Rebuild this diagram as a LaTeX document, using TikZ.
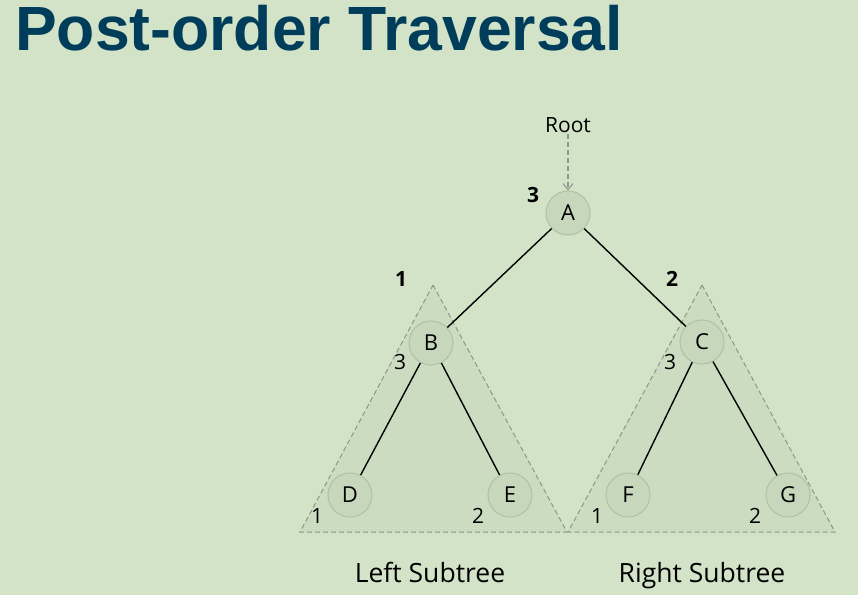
\documentclass[tikz,border=0pt]{standalone}
\usepackage{fontspec}
\setmainfont{Open Sans}
\newfontfamily\headfont{Liberation Sans}
\usetikzlibrary{arrows.meta,positioning,backgrounds}
\definecolor{cBg}{HTML}{D3E3C8}
\definecolor{cHead}{HTML}{003D5B}
\definecolor{cNode}{HTML}{C6D7BB}
\definecolor{cNodeRim}{HTML}{AEC2A3}
\definecolor{cTri}{HTML}{CBDCC0}
\definecolor{cDash}{HTML}{8E978B}
\tikzset{
  tnode/.style={circle, draw=cNodeRim, line width=1pt, fill=cNode,
    minimum size=44pt, inner sep=0pt, font=\fontsize{22}{22}\selectfont},
  ord/.style={inner sep=1pt, font=\fontsize{21}{21}\selectfont},
  ordtop/.style={ord, font=\fontsize{21}{21}\selectfont\bfseries},
  caption/.style={inner sep=1pt, anchor=base, font=\fontsize{26.5}{27}\selectfont},
  edge/.style={draw=black, line width=1.4pt},
  subtree/.style={draw=cDash, fill=cTri, dashed, dash pattern=on 5pt off 3pt, line width=1pt},
  ptr/.style={-{Straight Barb[length=6pt, width=10pt]}, draw=cDash, dashed,
    dash pattern=on 5pt off 3pt, line width=1.1pt},
}

\begin{document}
\begin{tikzpicture}[x=1pt, y=-1pt]
    \fill[cBg] (0,0) rectangle (858,595);
    \useasboundingbox (0,0) rectangle (858,595);
    \node[anchor=base west, inner sep=0pt, text=cHead,
      font=\headfont\fontsize{62.5}{63}\selectfont\bfseries] (title) at (15,50) {Post-order Traversal};
    % subtree outlines
    \coordinate (lTop) at (433,285);
    \coordinate (lLeft) at (300,532);
    \coordinate (lRight) at (567,532);
    \coordinate (rTop) at (702,285);
    \coordinate (rLeft) at (568,532);
    \coordinate (rRight) at (835,532);
    \draw[subtree] (lTop) -- (lRight) -- (lLeft) -- cycle;
    \draw[subtree] (rTop) -- (rRight) -- (rLeft) -- cycle;
    % tree nodes
    \node[tnode] (A) at (568,213) {A};
    \node[tnode] (B) at (431,343) {B};
    \node[tnode] (C) at (702,342) {C};
    \node[tnode] (D) at (350,495) {D};
    \node[tnode] (E) at (510,495) {E};
    \node[tnode] (F) at (628,495) {F};
    \node[tnode] (G) at (788,495) {G};
    \node[ord] (root) at (568,125) {Root};
    % visiting order
    \node[ordtop] (oA) at (533,195) {3};
    \node[ordtop] (oL) at (401,279) {1};
    \node[ordtop] (oR) at (672,279) {2};
    \node[ord] (oB) at (400,362) {3};
    \node[ord] (oD) at (317,516) {1};
    \node[ord] (oE) at (478,516) {2};
    \node[ord] (oC) at (670,362) {3};
    \node[ord] (oF) at (597,516) {1};
    \node[ord] (oG) at (755,516) {2};
    \node[caption] (lCap) at (430,582) {Left Subtree};
    \node[caption] (rCap) at (702,582) {Right Subtree};
    % edges
    \draw[ptr] (root) -- (A);
    \draw[edge] (A) -- (B);
    \draw[edge] (A) -- (C);
    \draw[edge] (B) -- (D);
    \draw[edge] (B) -- (E);
    \draw[edge] (C) -- (F);
    \draw[edge] (C) -- (G);
\end{tikzpicture}
\end{document}
